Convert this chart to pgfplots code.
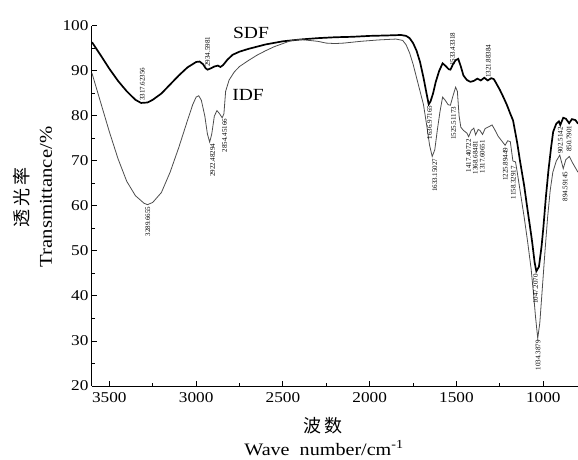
\documentclass[border=0pt]{standalone}
\usepackage{fontspec}
\setmainfont{Liberation Serif}
\newfontfamily\wide[FakeStretch=1.15]{Liberation Serif}
\newfontfamily\cjk{Noto Sans CJK SC}
\usepackage{pgfplots}
\pgfplotsset{compat=1.18}

\pgfplotstableread{
x y
3600 96.4
3550 93.5
3500 90.5
3450 87.8
3400 85.5
3350 83.6
3317 82.9
3280 83.0
3250 83.6
3200 85.0
3150 87.0
3100 89.0
3050 90.8
3000 92.0
2980 92.1
2960 91.5
2945 90.6
2934 90.3
2915 90.6
2895 91.0
2875 91.2
2860 90.9
2845 91.3
2820 92.5
2790 93.6
2750 94.3
2700 94.9
2650 95.4
2600 95.9
2500 96.6
2400 97.0
2300 97.3
2200 97.5
2100 97.6
2000 97.8
1900 97.9
1820 98.0
1790 97.8
1770 97.3
1750 96.2
1730 94.5
1710 92.0
1690 88.5
1670 84.5
1660 82.6
1650 83.2
1635 85.0
1620 87.5
1600 90.0
1580 91.7
1565 91.2
1545 90.4
1535 90.3
1520 91.5
1505 92.4
1490 92.7
1475 91.0
1460 89.0
1440 88.0
1420 87.6
1400 87.8
1380 88.3
1360 87.9
1340 88.5
1320 87.9
1300 88.4
1285 88.2
1270 87.2
1250 85.8
1230 84.2
1210 82.5
1190 80.5
1174 79.0
1150 74.0
1134 70.0
1110 64.5
1093 59.8
1075 55.0
1064 52.0
1050 47.5
1040 45.5
1025 46.5
1010 51.0
1000 55.0
985 62.0
970 68.0
955 73.0
943 76.5
925 78.3
910 78.8
902 78.0
885 79.6
870 79.4
851 78.4
835 79.3
815 79.1
800 78.3
}\sdf

\pgfplotstableread{
x y
3600 89.5
3550 83.0
3500 76.5
3450 70.5
3400 65.5
3350 62.3
3300 60.6
3280 60.3
3250 60.8
3200 63.0
3150 67.5
3100 73.0
3050 79.0
3020 82.5
3000 84.2
2985 84.5
2970 83.5
2950 80.0
2935 76.0
2922 74.2
2910 76.0
2895 80.0
2880 81.2
2865 80.5
2850 79.6
2840 80.5
2830 85.5
2810 88.0
2780 89.8
2750 91.0
2700 92.3
2650 93.5
2600 94.5
2550 95.4
2500 96.1
2450 96.8
2400 97.0
2350 96.8
2300 96.6
2250 96.2
2200 96.1
2150 96.2
2100 96.4
2050 96.6
1950 96.9
1850 97.1
1810 96.8
1790 95.8
1770 94.0
1750 91.5
1730 88.5
1710 85.5
1690 82.5
1670 77.5
1655 73.5
1640 71.0
1625 72.5
1610 77.0
1595 81.0
1580 84.2
1565 83.5
1548 82.5
1535 82.4
1520 84.5
1505 86.4
1495 85.5
1485 80.0
1475 77.5
1460 76.8
1440 76.2
1430 75.4
1415 76.8
1400 77.3
1390 75.8
1375 77.0
1365 76.8
1350 75.9
1335 77.2
1315 77.6
1295 78.0
1280 77.0
1260 75.5
1240 74.5
1220 73.5
1205 74.5
1190 74.3
1175 70.0
1160 69.8
1150 67.5
1130 62.5
1110 57.5
1090 52.0
1070 46.0
1055 40.0
1045 35.5
1032 30.6
1020 34.0
1005 42.0
990 50.0
975 57.5
960 63.5
945 67.5
925 70.0
905 71.3
895 69.8
885 68.3
870 70.3
850 71.0
830 69.5
815 68.5
800 67.5
}\idf

\begin{document}
\begin{tikzpicture}[peak/.style={font=\fontsize{7}{8}\selectfont, rotate=90, inner sep=0.5pt}]
\begin{axis}[
    scale only axis,
    width=486pt, height=360pt,
    x dir=reverse,
    xmin=800, xmax=3600,
    ymin=20, ymax=100,
    axis x line=bottom,
    axis y line=left,
    axis line style={-, line width=1pt},
    xtick={1000,1500,...,3500},
    ytick={20,30,...,100},
    minor x tick num=1,
    minor y tick num=1,
    tick align=inside,
    major tick length=5pt,
    minor tick length=3pt,
    tick style={line width=1pt, black},
    /pgf/number format/assume math mode=true,
    /pgf/number format/1000 sep={},
    tick label style={font=\wide\fontsize{15}{17}\selectfont},
    xticklabel style={yshift=-3pt},
    clip=false,
]
\addplot[black, line width=1.7pt] table {\sdf};
\addplot[black!70, line width=0.8pt] table {\idf};

\node[font=\wide\fontsize{17}{19}\selectfont] at (axis cs:2684,98.4) {SDF};
\node[font=\wide\fontsize{17}{19}\selectfont] at (axis cs:2701,84.7) {IDF};

% SDF labels
\node[peak, anchor=west] at (axis cs:3310,83.2) {3317.62356};
\node[peak, anchor=west] at (axis cs:2934,90.8) {2934.5981};
\node[peak, anchor=west] at (axis cs:1522,91.0) {1533.43318};
\node[peak, anchor=west] at (axis cs:1316,88.3) {1321.88384};
\node[peak, anchor=east] at (axis cs:1655,82.4) {1636.97165};
\node[peak, anchor=east] at (axis cs:1044,45.0) {1047.2070};
\node[peak, anchor=east] at (axis cs:902,77.6) {902.5142};
\node[peak, anchor=east] at (axis cs:851,78.0) {850.7901};

% IDF labels
\node[peak, anchor=east] at (axis cs:3278,60.0) {3289.6655};
\node[peak, anchor=east] at (axis cs:2905,74.0) {2922.48294};
\node[peak, anchor=east] at (axis cs:2836,79.5) {2854.45166};
\node[peak, anchor=east] at (axis cs:1625,70.7) {1633.15027};
\node[peak, anchor=east] at (axis cs:1517,82.2) {1525.51173};
\node[peak, anchor=east] at (axis cs:1431,75.0) {1417.40722};
\node[peak, anchor=east] at (axis cs:1391,74.6) {1368.68481};
\node[peak, anchor=east] at (axis cs:1351,74.8) {1317.60651};
\node[peak, anchor=east] at (axis cs:1218,73.1) {1225.89449};
\node[peak, anchor=east] at (axis cs:1172,69.0) {1158.32917};
\node[peak, anchor=east] at (axis cs:1030,30.3) {1034.3879};
\node[peak, anchor=east] at (axis cs:875,67.8) {894.59145};

\node[rotate=90, font=\cjk\fontsize{18}{20}\selectfont] at ([xshift=-70pt]rel axis cs:0,0.525) {透\,光\,率};
\node[rotate=90, font=\wide\fontsize{18}{20}\selectfont] at ([xshift=-46pt]rel axis cs:0,0.525) {Transmittance/\%};
\node[font=\cjk\fontsize{18}{20}\selectfont] at ([xshift=-12pt,yshift=-40pt]rel axis cs:0.5,0) {波\,数};
\node[font=\wide\fontsize{17.5}{19}\selectfont] at ([xshift=-11pt,yshift=-62pt]rel axis cs:0.5,0) {Wave\ \ number/cm\textsuperscript{-1}};
\end{axis}
\pgfresetboundingbox
\path (current axis.south west) ++(-92pt,-74pt) rectangle ([yshift=26pt]current axis.north east);
\end{tikzpicture}
\end{document}
